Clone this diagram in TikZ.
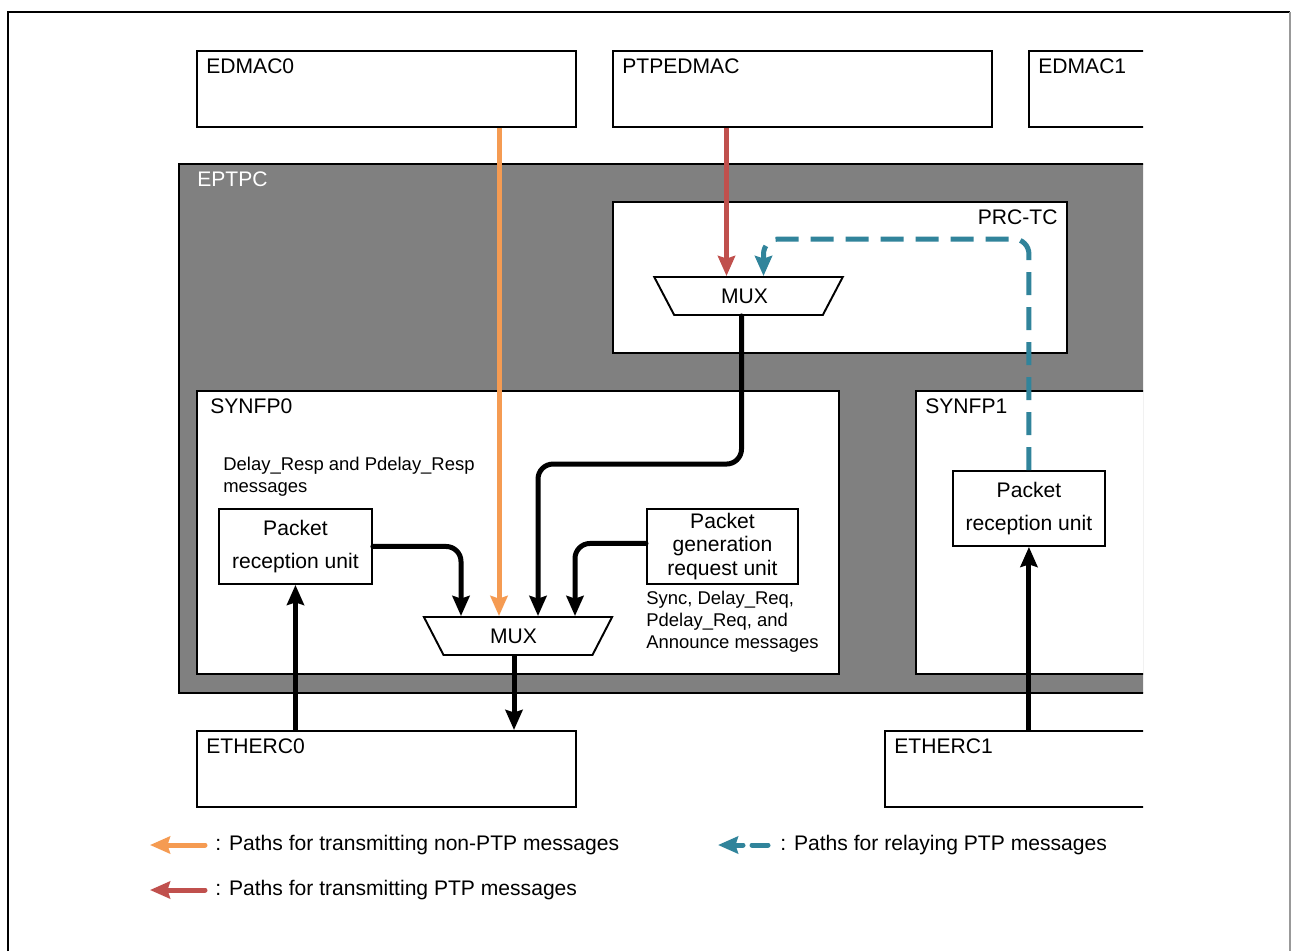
\documentclass[tikz,border=0pt]{standalone}
\usepackage{fontspec}
\setmainfont{Liberation Sans}
\usetikzlibrary{arrows.meta,calc,positioning,shapes.geometric}

\definecolor{eptpcgray}{HTML}{808080}
\definecolor{nonptpcol}{HTML}{F59B52}
\definecolor{ptpcol}{HTML}{C0504D}
\definecolor{relaycol}{HTML}{31849B}

\begin{document}
\begin{tikzpicture}[
  x=0.02cm, y=-0.02cm,
  font=\fontsize{12}{14}\selectfont,
  block/.style={
    draw=black,
    line width=1.1pt,
    fill=white,
    anchor=north west,
    inner sep=0pt,
    minimum width=7.58cm,
    minimum height=1.52cm
  },
  tag/.style={anchor=north west, inner sep=0pt, xshift=0.2cm, yshift=-0.17cm},
  tagright/.style={anchor=north east, inner sep=0pt, xshift=-0.2cm, yshift=-0.17cm},
  unit/.style={
    draw=black,
    line width=1.1pt,
    fill=white,
    anchor=north west,
    inner sep=0pt,
    minimum width=3.04cm,
    minimum height=1.5cm,
    align=center
  },
  note/.style={anchor=north west, inner sep=0pt, align=left, font=\fontsize{10.5}{12.5}\selectfont},
  mux/.style={
    draw=black, line width=1.1pt, fill=white,
    trapezium, shape border rotate=180, trapezium stretches=true,
    trapezium left angle=63.4, trapezium right angle=63.4,
    minimum width=3.78cm, minimum height=0.76cm, inner sep=0pt
  },
  sig/.style={-{Stealth[length=0.4cm,width=0.34cm,inset=0.05cm]}, line width=0.1cm, draw=black, rounded corners=0.3cm},
  nonptp/.style={sig, draw=nonptpcol},
  ptp/.style={sig, draw=ptpcol},
  relay/.style={sig, draw=relaycol, dash pattern=on 0.46cm off 0.24cm}
]

\useasboundingbox (0,0) rectangle (1292,951);

% frame
\draw[line width=1.1pt] (8,951) -- (8,12) -- (1290,12);
\draw[black!40, line width=0.6pt] (1290,12) -- (1290,951);

\begin{scope}
  \clip (0,0) rectangle (1143,951);

  \node[block, label={[tag]north west:EDMAC0}] (edmac0) at (196,50) {};
  \node[block, label={[tag]north west:PTPEDMAC}] (ptpedmac) at (612,50) {};
  \node[block, label={[tag]north west:EDMAC1}] (edmac1) at (1028,50) {};

  \node[block, fill=eptpcgray, minimum width=20cm, minimum height=10.58cm,
    label={[tag, xshift=0.18cm, text=white]north west:EPTPC}] (eptpc) at (178,163) {};

  \node[block, minimum width=9.08cm, minimum height=3.02cm,
    label={[tagright]north east:PRC-TC}] (prctc) at (612,201) {};

  \node[block, minimum width=12.84cm, minimum height=5.66cm,
    label={[tag, xshift=0.08cm]north west:SYNFP0}] (synfp0) at (196,390) {};
  \node[block, minimum width=6cm, minimum height=5.66cm,
    label={[tag]north west:SYNFP1}] (synfp1) at (915,390) {};

  \node[block, label={[tag]north west:ETHERC0}] (etherc0) at (196,730) {};
  \node[block, minimum width=6cm, label={[tag]north west:ETHERC1}] (etherc1) at (884,730) {};
\end{scope}

% units inside SYNFP0 / SYNFP1
\node[unit, minimum width=3.06cm, font=\fontsize{12}{18.7}\selectfont] (rxzero) at (218,508) {Packet\\reception unit};
\node[unit, minimum width=3.02cm, font=\fontsize{12}{13.6}\selectfont] (genunit) at (646,508) {Packet\\generation\\request unit};
\node[unit, font=\fontsize{12}{18.7}\selectfont] (rxone) at (952,470) {Packet\\reception unit};

\node[note] (respnote) at (223,457) {Delay\_Resp and Pdelay\_Resp\\messages};
\node[note] (syncnote) at (646,591) {Sync, Delay\_Req,\\Pdelay\_Req, and\\Announce messages};

\node[mux] (muxa) at (748.5,296) {MUX\hspace*{0.16cm}};
\node[mux] (muxb) at (518,636) {MUX\hspace*{0.18cm}};

% entry and exit points on the MUXes
\coordinate (inptp) at ($(muxa.north)+(-22,0)$);
\coordinate (inrelay) at ($(muxa.north)+(15,0)$);
\coordinate (inrx) at ($(muxb.north)+(-57,0)$);
\coordinate (inor) at ($(muxb.north)+(-19,0)$);
\coordinate (inprc) at ($(muxb.north)+(20,0)$);
\coordinate (ingen) at ($(muxb.north)+(57,0)$);
\coordinate (outa) at ($(muxa.south)+(-7,0)$);
\coordinate (outb) at ($(muxb.south)+(-4,0)$);

\draw[nonptp] (edmac0.south -| inor) -- (inor);
\draw[ptp] (ptpedmac.south -| inptp) -- (inptp);
\draw[relay] (rxone.north) |- ($(inrelay)+(0,-37)$) -- (inrelay);

\draw[sig, line cap=round] (outa) |- ($(inprc)+(0,-152)$) -- (inprc);
\draw[sig, line cap=round] (rxzero.east) -| (inrx);
\draw[sig, line cap=round] ($(genunit.west)+(0,-3)$) -| (ingen);
\draw[sig] (outb) -- (outb |- etherc0.north);
\draw[sig] (rxzero.south |- etherc0.north) -- (rxzero.south);
\draw[sig] (rxone.south |- etherc1.north) -- (rxone.south);

% legend
\node[anchor=west, inner sep=0pt] (lgnonptp) at (215,845) {: Paths for transmitting non-PTP messages};
\node[anchor=west, inner sep=0pt] (lgptp) at (215,890) {: Paths for transmitting PTP messages};
\node[anchor=west, inner sep=0pt] (lgrelay) at (780,845) {: Paths for relaying PTP messages};

\draw[nonptp, line cap=round] ($(lgnonptp.west)+(-10,0)$) -- ++(-55,0);
\draw[ptp, line cap=round] ($(lgptp.west)+(-10,0)$) -- ++(-55,0);
\draw[relay, dash pattern=on 0.32cm off 0.18cm, line cap=round] ($(lgrelay.west)+(-12,0)$) -- ++(-50,0);

\end{tikzpicture}
\end{document}
